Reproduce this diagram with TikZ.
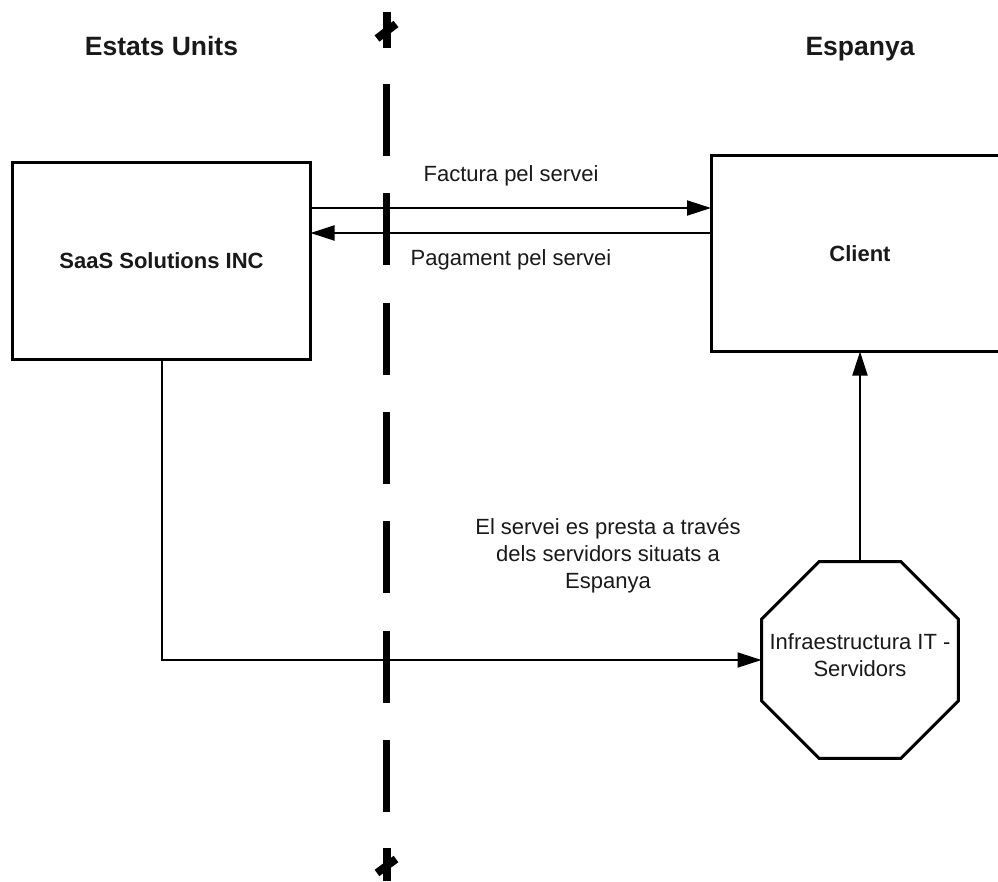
\documentclass[tikz,border=0pt]{standalone}
\usepackage{fontspec}
\setmainfont{Liberation Sans}
\usetikzlibrary{arrows.meta,shapes.geometric}
\begin{document}
\begin{tikzpicture}[x=1pt,y=-1pt,
  every node/.style={text=black!90},
  box/.style={draw,line width=3pt,inner sep=0pt,outer sep=0pt,
    font=\fontsize{22}{26}\selectfont\bfseries},
  octa/.style={draw,regular polygon,regular polygon sides=8,line width=3pt,
    inner sep=0pt,outer sep=0pt,minimum size=213.2pt},
  title/.style={anchor=base,font=\fontsize{26.5}{30}\selectfont\bfseries},
  lbl/.style={font=\fontsize{22}{27}\selectfont,align=center},
  conn/.style={line width=2pt,-{Triangle[length=24pt,width=15pt]}},
  divider/.style={line width=7.5pt,dash pattern=on 72pt off 37.33pt},
  breakmark/.style={line width=8pt}]
\useasboundingbox (0,0) rectangle (998,881);

% column headings
\node[title] (us) at (161.5,55) {Estats Units};
\node[title] (es) at (860,55) {Espanya};

% parties (the client box runs past the right edge of the page)
\node[box,minimum width=298pt,minimum height=197pt] (saas) at (161.5,261) {SaaS Solutions INC};
\node[box,minimum width=298pt,minimum height=196pt] (client) at (860,253.5) {Client};
\node[octa] (infra) at (860,660) {};
\node[lbl] (infratext) at (infra.center) [yshift=5pt] {Infraestructura IT -\\Servidors};

% invoice and payment flows
\coordinate (fy) at (0,208);
\coordinate (py) at (0,233);
\draw[conn] (saas.east |- fy) -- (client.west |- fy);
\draw[conn] (client.west |- py) -- (saas.east |- py);
\node[lbl,anchor=base] (factura) at (511,181) {Factura pel servei};
\node[lbl,anchor=base] (pagament) at (511,265) {Pagament pel servei};

% service delivery
\draw[conn] (saas.south) -- (saas.south |- infra.west) -- (infra.west);
\draw[conn] (infra.north) -- (client.south);
\node[lbl] (servei) at (608,556) {El servei es presta a través\\dels servidors situats a\\Espanya};

% border between the two countries
\coordinate (divtop) at (386.5,84);
\coordinate (divbot) at (386.5,812);
\draw[divider] (divtop) -- (divbot);
\draw[breakmark] (386.5,12) -- (386.5,48);
\draw[breakmark] (377,38.5) -- (396,24);
\draw[breakmark] (386.5,848) -- (386.5,881);
\draw[breakmark] (377,873) -- (396,859);
\end{tikzpicture}
\end{document}
